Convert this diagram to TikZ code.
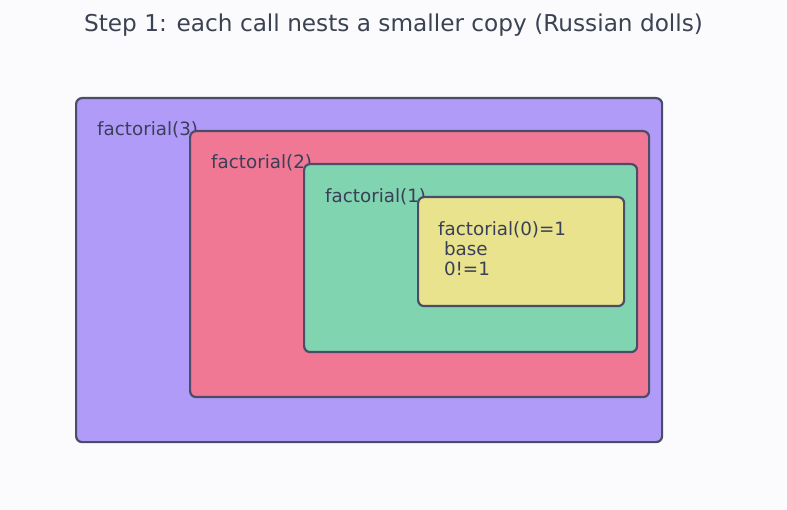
\documentclass[tikz,border=0pt]{standalone}
\usepackage{fontspec}
\setmainfont{DejaVu Sans}
\definecolor{bg}{HTML}{FBFBFE}
\definecolor{edge}{HTML}{4A4C68}
\definecolor{txt}{HTML}{3A3F58}
\definecolor{ttl}{HTML}{3B4252}
\definecolor{cpurple}{HTML}{B09CF8}
\definecolor{cred}{HTML}{F07894}
\definecolor{cgreen}{HTML}{80D4B0}
\definecolor{cyellow}{HTML}{EAE38E}
\tikzset{
  doll/.style={draw=edge, line width=2.2pt, rounded corners=6pt, anchor=north west, inner sep=0pt},
  lbl/.style={anchor=west, inner sep=0pt, text=txt, font=\fontsize{18.3}{20}\selectfont},
}
\begin{document}
\begin{tikzpicture}[x=1pt,y=-1pt]
\fill[bg] (0,0) rectangle (787,510);
\useasboundingbox (0,0) rectangle (787,510);
\node[anchor=center, text=ttl, font=\fontsize{23.2}{27}\selectfont] (title) at (393.5,25) {Step 1: each call nests a smaller copy (Russian dolls)};
\node[doll, fill=cpurple, minimum width=586pt, minimum height=344pt] (f3) at (75,97) {};
\node[lbl] (l3) at (97,130) {factorial(3)};
\node[doll, fill=cred, minimum width=459pt, minimum height=266pt] (f2) at (189,130) {};
\node[lbl] (l2) at (211,163) {factorial(2)};
\node[doll, fill=cgreen, minimum width=333pt, minimum height=188pt] (f1) at (303,163) {};
\node[lbl] (l1) at (325,197) {factorial(1)};
\node[doll, fill=cyellow, minimum width=206pt, minimum height=109pt] (f0) at (417,196) {};
\node[lbl, anchor=north west, align=left] (l0) at (438,221) {factorial(0)=1\\\ base\\\ 0!=1};
\end{tikzpicture}
\end{document}
